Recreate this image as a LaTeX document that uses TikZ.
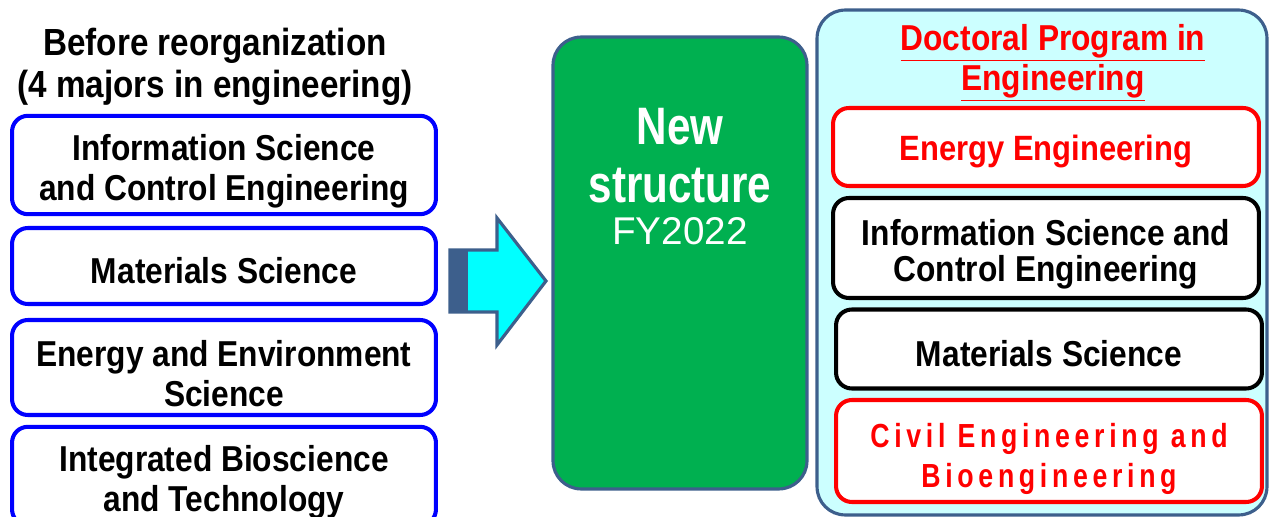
\documentclass[tikz,border=0pt]{standalone}
\usepackage{fontspec}
\setmainfont[FakeStretch=0.88]{Liberation Sans}
\newfontfamily\narrowfont[FakeStretch=0.8]{Liberation Sans}
\newfontfamily\plainfont{Liberation Sans}
\usetikzlibrary{positioning}
\definecolor{frameblue}{RGB}{61,95,140}
\definecolor{newgreen}{RGB}{0,176,80}
\definecolor{paleblue}{RGB}{204,255,255}
\definecolor{arrowcyan}{RGB}{0,255,255}

\begin{document}
\begin{tikzpicture}[x=0.02cm, y=-0.02cm,
    every node/.style={align=center, font=\bfseries\fontsize{20.5pt}{23pt}\selectfont},
    lower/.style={execute at begin node={\rule{0pt}{20pt}}},
    lowertwo/.style={execute at begin node={\rule{0pt}{45pt}}},
    oldbox/.style={draw=blue, line width=2.3pt, fill=white, rounded corners=9pt, minimum width=8.48cm},
    newbox/.style={line width=2.3pt, fill=white, rounded corners=9pt, minimum width=8.52cm},
    bigbox/.style={draw=frameblue, line width=1.8pt, rounded corners=16pt}]
  \useasboundingbox (0,0) rectangle (1269,517);
  \clip (0,0) rectangle (1269,517);

  \node[font=\bfseries\fontsize{21.5pt}{24pt}\selectfont] (before) at (215,67) {Before reorganization\\(4 majors in engineering)};
  \node[oldbox, lowertwo, minimum height=1.92cm] (o1) at (224,165) {Information Science\\and Control Engineering};
  \node[oldbox, lower, minimum height=1.52cm] (o2) at (224,266) {Materials Science};
  \node[oldbox, lowertwo, minimum height=1.90cm] (o3) at (224,367.5) {Energy and Environment\\Science};
  \node[oldbox, lowertwo, minimum height=1.96cm] (o4) at (224,476) {Integrated Bioscience\\and Technology};

  \draw[frameblue, line width=1.8pt, fill=arrowcyan, line join=miter]
    (450,250) -- (497,250) -- (497,218) -- (546,281) -- (497,345) -- (497,312) -- (450,312) -- cycle;
  \fill[frameblue] (450,250) rectangle (468,312);

  \node[bigbox, fill=newgreen, minimum width=5.08cm, minimum height=9.04cm] (green) at (680,263) {};
  \node[text=white, font=\narrowfont\bfseries\fontsize{30pt}{33pt}\selectfont] (newtxt) at (680,156) {New\\structure};
  \node[text=white, font=\plainfont\fontsize{22pt}{24pt}\selectfont, below=1pt of newtxt] (fy) {FY2022};

  \node[bigbox, fill=paleblue, minimum width=9.0cm, minimum height=10.1cm] (doctor) at (1042,262.5) {};
  \node[text=red] (dtitle) at (1053,63) {\underline{Doctoral Program in}\\\underline{Engineering}};
  \node[newbox, lower, draw=red, text=red, minimum height=1.56cm, font=\bfseries\fontsize{20pt}{23pt}\selectfont] (n1) at (1046,147) {Energy Engineering};
  \node[newbox, draw=black, minimum height=2.0cm, font=\bfseries\fontsize{20.5pt}{21pt}\selectfont,
    execute at begin node={\rule{0pt}{43pt}}] (n2) at (1046,248) {Information Science and\\Control Engineering};
  \node[newbox, lower, draw=black, minimum height=1.58cm] (n3) at (1049,349) {Materials Science};
  \node[newbox, draw=red, text=red, minimum height=2.04cm,
    font=\narrowfont\bfseries\fontsize{19pt}{23pt}\selectfont\addfontfeature{LetterSpace=14},
    execute at begin node={\rule{0pt}{46pt}}] (n4) at (1049,451)
    {Civil Engineering and\\Bioengineering};
\end{tikzpicture}
\end{document}
